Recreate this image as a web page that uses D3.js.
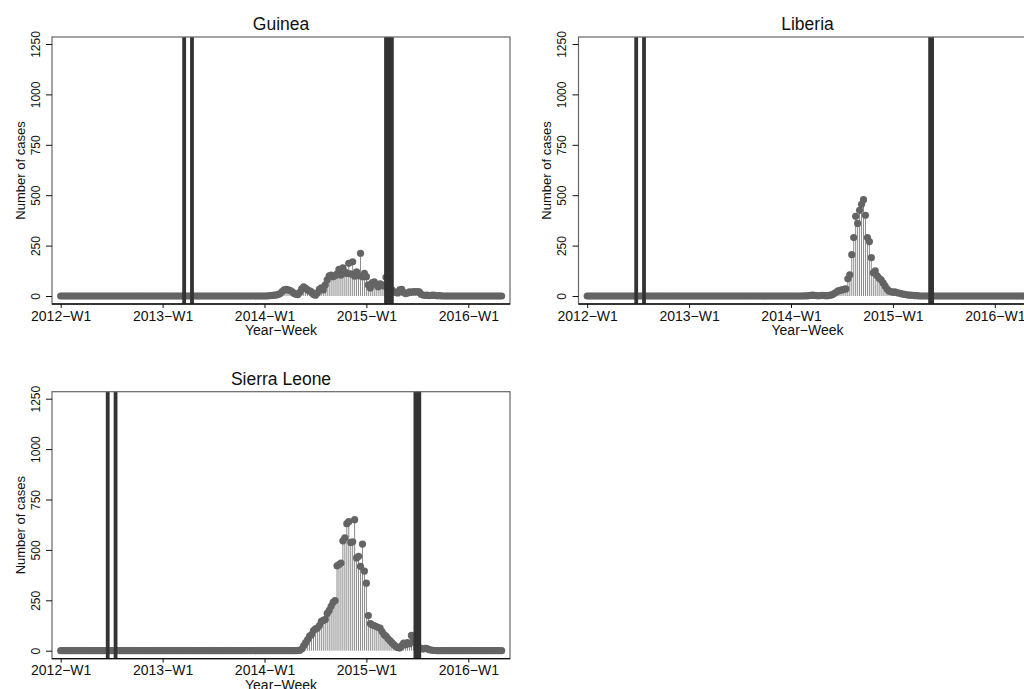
<!DOCTYPE html>
<html>
<head>
<meta charset="utf-8">
<script src="https://cdn.jsdelivr.net/npm/d3@7"></script>
<style>
  html, body { margin: 0; padding: 0; background: #fff; }
  svg { display: block; font-family: "Liberation Sans", Arial, Helvetica, sans-serif; }
</style>
</head>
<body>
<div id="chart"></div>
<script>
"use strict";

// weeks are counted from 2012-W1 (index 0), 52 weeks per year on the axis
const nWeeks = 226;
const weekTicks = [0, 52, 104, 156, 208];
const weekTickLabels = ["2012\u2212W1", "2013\u2212W1", "2014\u2212W1", "2015\u2212W1", "2016\u2212W1"];
const caseTicks = [0, 250, 500, 750, 1000, 1250];

// weekly cases, every week outside the listed window is 0
const guineaFirstWeek = 104;
const guineaCases = [
    0, 0, 1, 2, 3, 4, 5, 8, 12, 22,
    30, 33, 30, 28, 22, 14, 9, 7, 18, 35,
    46, 38, 30, 25, 20, 8, 4, 15, 33, 40,
    30, 55, 80, 100, 104, 96, 100, 110, 132, 104,
    140, 120, 112, 162, 110, 170, 98, 120, 100, 212,
    95, 112, 96, 55, 40, 66, 70, 58, 46, 60,
    55, 50, 93, 40, 25, 30, 20, 18, 15, 30,
    33, 18, 12, 15, 20, 18, 22, 20, 22, 20,
    8, 5, 3, 4, 2, 3, 5, 3, 1, 2, 1, 0
];
const guineaMarkerWeeks = [63, 67, 166, 167, 168, 169];

const liberiaFirstWeek = 110;
const liberiaCases = [
    0, 1, 0, 2, 3, 4, 3, 2, 1, 2,
    3, 2, 1, 2, 4, 6, 12, 18, 25, 28,
    30, 33, 35, 85, 105, 205, 290, 395, 360, 425,
    455, 478, 400, 290, 270, 190, 115, 125, 100, 88,
    80, 65, 50, 35, 25, 22, 18, 20, 17, 15,
    12, 10, 8, 6, 5, 4, 3, 2, 2, 1, 0
];
const liberiaMarkerWeeks = [25, 29, 175, 176];

const sierraLeoneFirstWeek = 120;
const sierraLeoneCases = [
    0, 1, 2, 8, 25, 40, 55, 72, 80, 100,
    108, 112, 125, 145, 150, 155, 185, 200, 220, 240,
    248, 421, 427, 435, 545, 560, 630, 640, 537, 540,
    650, 460, 468, 418, 529, 395, 335, 174, 135, 128,
    125, 120, 115, 112, 95, 80, 72, 60, 50, 40,
    30, 22, 15, 13, 25, 38, 30, 40, 35, 76,
    60, 40, 25, 15, 10, 8, 12, 10, 5, 3,
    2, 1, 0
];
const sierraLeoneMarkerWeeks = [24, 28, 181, 182, 183];


// full weekly series from a window of values
function weeklySeries(firstWeek, cases) {
    let series = [];
    for (let w = 0; w < nWeeks; w++) {
        let k = w - firstWeek;
        series.push({ week: w, cases: (k >= 0 && k < cases.length) ? cases[k] : 0 });
    }
    return series;
}

const panels = [
    { title: "Guinea", series: weeklySeries(guineaFirstWeek, guineaCases), markers: guineaMarkerWeeks, left: 52, top: 37 },
    { title: "Liberia", series: weeklySeries(liberiaFirstWeek, liberiaCases), markers: liberiaMarkerWeeks, left: 578.5, top: 37 },
    { title: "Sierra Leone", series: weeklySeries(sierraLeoneFirstWeek, sierraLeoneCases), markers: sierraLeoneMarkerWeeks, left: 52, top: 391.7 }
];

// layout
const plotWidth = 458,
      plotHeight = 267;

let svg = d3.select("#chart").append("svg")
    .attr("width", 1024)
    .attr("height", 689);

svg.append("rect")
    .attr("width", 1024)
    .attr("height", 689)
    .attr("fill", "#fff");

panels.forEach(p => {

    let g = svg.append("g")
        .attr("transform", `translate(${p.left}, ${p.top})`);

    // scales
    let x = d3.scaleLinear()
        .domain([0, 208])
        .range([8.7, 8.7 + 208 * 1.9596]);

    let y = d3.scaleLinear()
        .domain([0, 1250])
        .range([plotHeight - 8, 7]);

    // stems
    g.append("g")
        .selectAll("line")
        .data(p.series.filter(d => d.cases > 0))
        .enter()
        .append("line")
        .attr("x1", d => x(d.week))
        .attr("x2", d => x(d.week))
        .attr("y1", y(0))
        .attr("y2", d => y(d.cases))
        .attr("stroke", "#8c8c8c")
        .attr("stroke-width", 1);

    // points
    g.append("g")
        .selectAll("circle")
        .data(p.series)
        .enter()
        .append("circle")
        .attr("cx", d => x(d.week))
        .attr("cy", d => y(d.cases))
        .attr("r", 3.6)
        .attr("fill", "#646464");

    // marker weeks
    g.append("g")
        .selectAll("line")
        .data(p.markers)
        .enter()
        .append("line")
        .attr("x1", d => x(d))
        .attr("x2", d => x(d))
        .attr("y1", 0)
        .attr("y2", plotHeight)
        .attr("stroke", "#333")
        .attr("stroke-width", 3.8);

    // frame
    g.append("rect")
        .attr("x", 0)
        .attr("y", 0)
        .attr("width", plotWidth)
        .attr("height", plotHeight)
        .attr("fill", "none")
        .attr("stroke", "#666")
        .attr("stroke-width", 1.2);

    // x axis
    let xAxis = g.append("g")
        .attr("class", "x_axis")
        .attr("transform", `translate(0, ${plotHeight})`)
        .call(d3.axisBottom(x).tickValues(weekTicks).tickFormat((d, i) => weekTickLabels[i]).tickSize(4).tickSizeOuter(0));
    xAxis.select(".domain").remove();
    xAxis.append("line")
        .attr("x1", 0)
        .attr("x2", plotWidth)
        .attr("stroke", "#111")
        .attr("stroke-width", 1.3);
    xAxis.selectAll(".tick line").attr("stroke", "#111");
    xAxis.selectAll(".tick text")
        .attr("y", 16.7)
        .attr("dy", 0)
        .attr("fill", "#111")
        .style("font-size", "14px");

    g.append("text")
        .attr("x", plotWidth / 2)
        .attr("y", plotHeight + 31)
        .attr("text-anchor", "middle")
        .attr("fill", "#111")
        .style("font-size", "14px")
        .text("Year\u2212Week");

    // y axis
    let yAxis = g.append("g")
        .attr("class", "y_axis")
        .call(d3.axisLeft(y).tickValues(caseTicks).tickFormat(d3.format("d")).tickSize(6).tickSizeOuter(0));
    yAxis.select(".domain").remove();
    yAxis.selectAll(".tick line").attr("stroke", "#111");
    yAxis.selectAll(".tick text")
        .attr("x", null)
        .attr("dy", null)
        .attr("text-anchor", "middle")
        .attr("transform", "translate(-12.5, 0) rotate(-90)")
        .attr("fill", "#111")
        .style("font-size", "12px");

    g.append("text")
        .attr("transform", `translate(-27.5, ${plotHeight / 2}) rotate(-90)`)
        .attr("text-anchor", "middle")
        .attr("fill", "#111")
        .style("font-size", "13px")
        .text("Number of cases");

    // title
    g.append("text")
        .attr("x", plotWidth / 2)
        .attr("y", -7)
        .attr("text-anchor", "middle")
        .attr("fill", "#111")
        .style("font-size", "17.5px")
        .text(p.title);
});
</script>
</body>
</html>
